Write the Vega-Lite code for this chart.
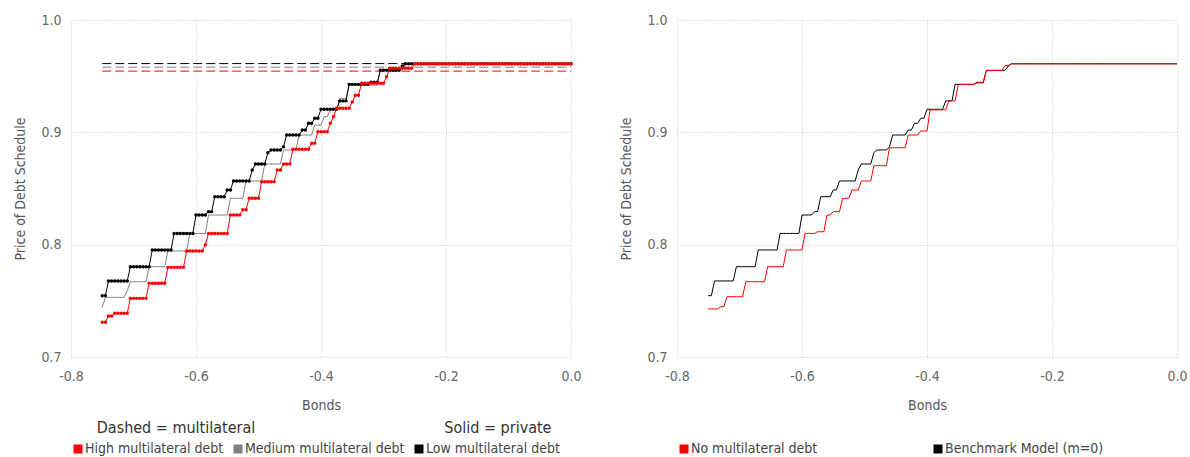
{
"$schema":"https://vega.github.io/schema/vega-lite/v6.json",
"padding":{"left":13,"top":13,"right":5,"bottom":2},
"config":{
 "font":"DejaVu Sans Condensed",
 "locale":{"number":{"decimal":".","thousands":",","grouping":[3],"currency":["$",""],"minus":"-"}},
 "view":{"stroke":null},
 "axis":{"grid":true,"gridColor":"#c8c8da","gridDash":[1,2],"gridWidth":1,"domain":false,"ticks":false,"labelFontSize":14,"labelColor":"#666666","titleFontSize":14,"titleColor":"#555555","titleFontWeight":"normal","labelPadding":10,"labelFlush":false},
 "legend":{"orient":"bottom","direction":"horizontal","title":null,"symbolType":"square","symbolSize":16,"symbolStrokeWidth":5,"labelFontSize":14,"labelColor":"#444444","labelOffset":0,"columnPadding":2,"symbolDash":[],"symbolOpacity":1,"offset":30}
},
"resolve":{"scale":{"color":"independent"},"legend":{"color":"independent"}},
"bounds":"flush",
"spacing":106,
"datasets":{
"curves":[
{"b":-0.75,"hi":0.7309,"md":0.7443,"lo":0.7546,"nm":0.7428,"bm":0.7546},
{"b":-0.745,"hi":0.7309,"md":0.7531,"lo":0.7546,"nm":0.7428,"bm":0.7546},
{"b":-0.74,"hi":0.7365,"md":0.7531,"lo":0.7677,"nm":0.7428,"bm":0.7677},
{"b":-0.735,"hi":0.7365,"md":0.7531,"lo":0.7677,"nm":0.7428,"bm":0.7677},
{"b":-0.73,"hi":0.739,"md":0.7531,"lo":0.7677,"nm":0.7448,"bm":0.7677},
{"b":-0.725,"hi":0.739,"md":0.7531,"lo":0.7677,"nm":0.7448,"bm":0.7677},
{"b":-0.72,"hi":0.739,"md":0.7531,"lo":0.7677,"nm":0.7537,"bm":0.7677},
{"b":-0.715,"hi":0.739,"md":0.7531,"lo":0.7677,"nm":0.7537,"bm":0.7677},
{"b":-0.71,"hi":0.739,"md":0.759,"lo":0.7677,"nm":0.7537,"bm":0.7677},
{"b":-0.705,"hi":0.7522,"md":0.767,"lo":0.7804,"nm":0.7537,"bm":0.7804},
{"b":-0.7,"hi":0.7522,"md":0.767,"lo":0.7804,"nm":0.7537,"bm":0.7804},
{"b":-0.695,"hi":0.7522,"md":0.767,"lo":0.7804,"nm":0.7537,"bm":0.7804},
{"b":-0.69,"hi":0.7522,"md":0.767,"lo":0.7804,"nm":0.767,"bm":0.7804},
{"b":-0.685,"hi":0.7522,"md":0.767,"lo":0.7804,"nm":0.767,"bm":0.7804},
{"b":-0.68,"hi":0.7522,"md":0.767,"lo":0.7804,"nm":0.767,"bm":0.7804},
{"b":-0.675,"hi":0.7656,"md":0.7804,"lo":0.7804,"nm":0.767,"bm":0.7804},
{"b":-0.67,"hi":0.7656,"md":0.7804,"lo":0.7953,"nm":0.767,"bm":0.7953},
{"b":-0.665,"hi":0.7656,"md":0.7804,"lo":0.7953,"nm":0.767,"bm":0.7953},
{"b":-0.66,"hi":0.7656,"md":0.7804,"lo":0.7953,"nm":0.767,"bm":0.7953},
{"b":-0.655,"hi":0.7656,"md":0.7804,"lo":0.7953,"nm":0.7804,"bm":0.7953},
{"b":-0.65,"hi":0.7656,"md":0.7804,"lo":0.7953,"nm":0.7804,"bm":0.7953},
{"b":-0.645,"hi":0.7798,"md":0.7944,"lo":0.7953,"nm":0.7804,"bm":0.7953},
{"b":-0.64,"hi":0.7798,"md":0.7944,"lo":0.7953,"nm":0.7804,"bm":0.7953},
{"b":-0.635,"hi":0.7798,"md":0.7944,"lo":0.81,"nm":0.7804,"bm":0.81},
{"b":-0.63,"hi":0.7798,"md":0.7944,"lo":0.81,"nm":0.7804,"bm":0.81},
{"b":-0.625,"hi":0.7798,"md":0.7944,"lo":0.81,"nm":0.7953,"bm":0.81},
{"b":-0.62,"hi":0.7798,"md":0.7944,"lo":0.81,"nm":0.7953,"bm":0.81},
{"b":-0.615,"hi":0.7944,"md":0.7944,"lo":0.81,"nm":0.7953,"bm":0.81},
{"b":-0.61,"hi":0.7944,"md":0.81,"lo":0.81,"nm":0.7953,"bm":0.81},
{"b":-0.605,"hi":0.7944,"md":0.81,"lo":0.81,"nm":0.7953,"bm":0.81},
{"b":-0.6,"hi":0.7944,"md":0.81,"lo":0.8264,"nm":0.7953,"bm":0.8264},
{"b":-0.595,"hi":0.7944,"md":0.81,"lo":0.8264,"nm":0.81,"bm":0.8264},
{"b":-0.59,"hi":0.7944,"md":0.81,"lo":0.8264,"nm":0.81,"bm":0.8264},
{"b":-0.585,"hi":0.8,"md":0.81,"lo":0.8264,"nm":0.81,"bm":0.8264},
{"b":-0.58,"hi":0.81,"md":0.8264,"lo":0.8294,"nm":0.81,"bm":0.8294},
{"b":-0.575,"hi":0.81,"md":0.8264,"lo":0.8294,"nm":0.8115,"bm":0.8294},
{"b":-0.57,"hi":0.81,"md":0.8264,"lo":0.8427,"nm":0.8115,"bm":0.8427},
{"b":-0.565,"hi":0.81,"md":0.8264,"lo":0.8427,"nm":0.8115,"bm":0.8427},
{"b":-0.56,"hi":0.81,"md":0.8264,"lo":0.8427,"nm":0.8264,"bm":0.8427},
{"b":-0.555,"hi":0.81,"md":0.8264,"lo":0.8427,"nm":0.8264,"bm":0.8427},
{"b":-0.55,"hi":0.81,"md":0.8264,"lo":0.8487,"nm":0.8294,"bm":0.8487},
{"b":-0.545,"hi":0.8264,"md":0.8413,"lo":0.8487,"nm":0.8294,"bm":0.8487},
{"b":-0.54,"hi":0.8264,"md":0.8413,"lo":0.8567,"nm":0.8294,"bm":0.8567},
{"b":-0.535,"hi":0.8264,"md":0.8413,"lo":0.8567,"nm":0.8413,"bm":0.8567},
{"b":-0.53,"hi":0.8264,"md":0.8413,"lo":0.8567,"nm":0.8413,"bm":0.8567},
{"b":-0.525,"hi":0.831,"md":0.8413,"lo":0.8567,"nm":0.8413,"bm":0.8567},
{"b":-0.52,"hi":0.831,"md":0.8567,"lo":0.8567,"nm":0.8487,"bm":0.8567},
{"b":-0.515,"hi":0.8413,"md":0.8567,"lo":0.8567,"nm":0.8487,"bm":0.8567},
{"b":-0.51,"hi":0.8413,"md":0.8567,"lo":0.8665,"nm":0.8487,"bm":0.8665},
{"b":-0.505,"hi":0.8413,"md":0.8567,"lo":0.8718,"nm":0.8567,"bm":0.8718},
{"b":-0.5,"hi":0.8413,"md":0.8567,"lo":0.8718,"nm":0.8567,"bm":0.8718},
{"b":-0.495,"hi":0.856,"md":0.8567,"lo":0.8718,"nm":0.8567,"bm":0.8718},
{"b":-0.49,"hi":0.856,"md":0.8718,"lo":0.8718,"nm":0.8567,"bm":0.8718},
{"b":-0.485,"hi":0.856,"md":0.8718,"lo":0.8819,"nm":0.8703,"bm":0.8819},
{"b":-0.48,"hi":0.856,"md":0.8718,"lo":0.8843,"nm":0.8703,"bm":0.8843},
{"b":-0.475,"hi":0.856,"md":0.8718,"lo":0.8843,"nm":0.8703,"bm":0.8843},
{"b":-0.47,"hi":0.8665,"md":0.8718,"lo":0.8843,"nm":0.8703,"bm":0.8843},
{"b":-0.465,"hi":0.8665,"md":0.8718,"lo":0.8843,"nm":0.8703,"bm":0.8843},
{"b":-0.46,"hi":0.8718,"md":0.8843,"lo":0.8872,"nm":0.8863,"bm":0.8872},
{"b":-0.455,"hi":0.8718,"md":0.8843,"lo":0.8976,"nm":0.8863,"bm":0.8976},
{"b":-0.45,"hi":0.8718,"md":0.8843,"lo":0.8976,"nm":0.8863,"bm":0.8976},
{"b":-0.445,"hi":0.8849,"md":0.8843,"lo":0.8976,"nm":0.8863,"bm":0.8976},
{"b":-0.44,"hi":0.8849,"md":0.8843,"lo":0.8976,"nm":0.8863,"bm":0.8976},
{"b":-0.435,"hi":0.8849,"md":0.8976,"lo":0.8976,"nm":0.8863,"bm":0.8976},
{"b":-0.43,"hi":0.8849,"md":0.8976,"lo":0.902,"nm":0.8976,"bm":0.902},
{"b":-0.425,"hi":0.8849,"md":0.8976,"lo":0.902,"nm":0.8976,"bm":0.902},
{"b":-0.42,"hi":0.8849,"md":0.8976,"lo":0.908,"nm":0.8976,"bm":0.908},
{"b":-0.415,"hi":0.8902,"md":0.8976,"lo":0.908,"nm":0.8976,"bm":0.908},
{"b":-0.41,"hi":0.8902,"md":0.9065,"lo":0.9125,"nm":0.9012,"bm":0.9125},
{"b":-0.405,"hi":0.9006,"md":0.9065,"lo":0.9125,"nm":0.9012,"bm":0.9125},
{"b":-0.4,"hi":0.9006,"md":0.9065,"lo":0.9205,"nm":0.9012,"bm":0.9205},
{"b":-0.395,"hi":0.9006,"md":0.914,"lo":0.9205,"nm":0.92,"bm":0.9205},
{"b":-0.39,"hi":0.9006,"md":0.914,"lo":0.9205,"nm":0.92,"bm":0.9205},
{"b":-0.385,"hi":0.908,"md":0.92,"lo":0.9205,"nm":0.92,"bm":0.9205},
{"b":-0.38,"hi":0.914,"md":0.92,"lo":0.9205,"nm":0.92,"bm":0.9205},
{"b":-0.375,"hi":0.9214,"md":0.92,"lo":0.9205,"nm":0.92,"bm":0.9205},
{"b":-0.37,"hi":0.9214,"md":0.93,"lo":0.928,"nm":0.92,"bm":0.928},
{"b":-0.365,"hi":0.9214,"md":0.93,"lo":0.928,"nm":0.928,"bm":0.928},
{"b":-0.36,"hi":0.9214,"md":0.93,"lo":0.928,"nm":0.928,"bm":0.928},
{"b":-0.355,"hi":0.9214,"md":0.942,"lo":0.9427,"nm":0.928,"bm":0.9427},
{"b":-0.35,"hi":0.927,"md":0.942,"lo":0.9427,"nm":0.9427,"bm":0.9427},
{"b":-0.345,"hi":0.933,"md":0.942,"lo":0.9427,"nm":0.9427,"bm":0.9427},
{"b":-0.34,"hi":0.933,"md":0.942,"lo":0.9427,"nm":0.9427,"bm":0.9427},
{"b":-0.335,"hi":0.9436,"md":0.942,"lo":0.9427,"nm":0.9427,"bm":0.9427},
{"b":-0.33,"hi":0.9436,"md":0.942,"lo":0.9427,"nm":0.9427,"bm":0.9427},
{"b":-0.325,"hi":0.9436,"md":0.942,"lo":0.9427,"nm":0.9427,"bm":0.9427},
{"b":-0.32,"hi":0.9436,"md":0.942,"lo":0.9445,"nm":0.944,"bm":0.9445},
{"b":-0.315,"hi":0.9436,"md":0.942,"lo":0.9445,"nm":0.944,"bm":0.9445},
{"b":-0.31,"hi":0.9436,"md":0.942,"lo":0.9445,"nm":0.944,"bm":0.9445},
{"b":-0.305,"hi":0.9436,"md":0.9555,"lo":0.9552,"nm":0.955,"bm":0.9552},
{"b":-0.3,"hi":0.9436,"md":0.9555,"lo":0.9552,"nm":0.955,"bm":0.9552},
{"b":-0.295,"hi":0.9495,"md":0.9555,"lo":0.9552,"nm":0.955,"bm":0.9552},
{"b":-0.29,"hi":0.957,"md":0.9555,"lo":0.9552,"nm":0.955,"bm":0.9552},
{"b":-0.285,"hi":0.957,"md":0.9555,"lo":0.9552,"nm":0.955,"bm":0.9552},
{"b":-0.28,"hi":0.957,"md":0.9555,"lo":0.9552,"nm":0.955,"bm":0.9552},
{"b":-0.275,"hi":0.957,"md":0.9555,"lo":0.9552,"nm":0.9595,"bm":0.9552},
{"b":-0.27,"hi":0.957,"md":0.9555,"lo":0.959,"nm":0.9595,"bm":0.959},
{"b":-0.265,"hi":0.957,"md":0.961,"lo":0.961,"nm":0.961,"bm":0.961},
{"b":-0.26,"hi":0.957,"md":0.961,"lo":0.961,"nm":0.961,"bm":0.961},
{"b":-0.255,"hi":0.957,"md":0.961,"lo":0.961,"nm":0.961,"bm":0.961},
{"b":-0.25,"hi":0.961,"md":0.961,"lo":0.961,"nm":0.961,"bm":0.961},
{"b":-0.245,"hi":0.961,"md":0.961,"lo":0.961,"nm":0.961,"bm":0.961},
{"b":-0.24,"hi":0.961,"md":0.961,"lo":0.961,"nm":0.961,"bm":0.961},
{"b":-0.235,"hi":0.961,"md":0.961,"lo":0.961,"nm":0.961,"bm":0.961},
{"b":-0.23,"hi":0.961,"md":0.961,"lo":0.961,"nm":0.961,"bm":0.961},
{"b":-0.225,"hi":0.961,"md":0.961,"lo":0.961,"nm":0.961,"bm":0.961},
{"b":-0.22,"hi":0.961,"md":0.961,"lo":0.961,"nm":0.961,"bm":0.961},
{"b":-0.215,"hi":0.961,"md":0.961,"lo":0.961,"nm":0.961,"bm":0.961},
{"b":-0.21,"hi":0.961,"md":0.961,"lo":0.961,"nm":0.961,"bm":0.961},
{"b":-0.205,"hi":0.961,"md":0.961,"lo":0.961,"nm":0.961,"bm":0.961},
{"b":-0.2,"hi":0.961,"md":0.961,"lo":0.961,"nm":0.961,"bm":0.961},
{"b":-0.195,"hi":0.961,"md":0.961,"lo":0.961,"nm":0.961,"bm":0.961},
{"b":-0.19,"hi":0.961,"md":0.961,"lo":0.961,"nm":0.961,"bm":0.961},
{"b":-0.185,"hi":0.961,"md":0.961,"lo":0.961,"nm":0.961,"bm":0.961},
{"b":-0.18,"hi":0.961,"md":0.961,"lo":0.961,"nm":0.961,"bm":0.961},
{"b":-0.175,"hi":0.961,"md":0.961,"lo":0.961,"nm":0.961,"bm":0.961},
{"b":-0.17,"hi":0.961,"md":0.961,"lo":0.961,"nm":0.961,"bm":0.961},
{"b":-0.165,"hi":0.961,"md":0.961,"lo":0.961,"nm":0.961,"bm":0.961},
{"b":-0.16,"hi":0.961,"md":0.961,"lo":0.961,"nm":0.961,"bm":0.961},
{"b":-0.155,"hi":0.961,"md":0.961,"lo":0.961,"nm":0.961,"bm":0.961},
{"b":-0.15,"hi":0.961,"md":0.961,"lo":0.961,"nm":0.961,"bm":0.961},
{"b":-0.145,"hi":0.961,"md":0.961,"lo":0.961,"nm":0.961,"bm":0.961},
{"b":-0.14,"hi":0.961,"md":0.961,"lo":0.961,"nm":0.961,"bm":0.961},
{"b":-0.135,"hi":0.961,"md":0.961,"lo":0.961,"nm":0.961,"bm":0.961},
{"b":-0.13,"hi":0.961,"md":0.961,"lo":0.961,"nm":0.961,"bm":0.961},
{"b":-0.125,"hi":0.961,"md":0.961,"lo":0.961,"nm":0.961,"bm":0.961},
{"b":-0.12,"hi":0.961,"md":0.961,"lo":0.961,"nm":0.961,"bm":0.961},
{"b":-0.115,"hi":0.961,"md":0.961,"lo":0.961,"nm":0.961,"bm":0.961},
{"b":-0.11,"hi":0.961,"md":0.961,"lo":0.961,"nm":0.961,"bm":0.961},
{"b":-0.105,"hi":0.961,"md":0.961,"lo":0.961,"nm":0.961,"bm":0.961},
{"b":-0.1,"hi":0.961,"md":0.961,"lo":0.961,"nm":0.961,"bm":0.961},
{"b":-0.095,"hi":0.961,"md":0.961,"lo":0.961,"nm":0.961,"bm":0.961},
{"b":-0.09,"hi":0.961,"md":0.961,"lo":0.961,"nm":0.961,"bm":0.961},
{"b":-0.085,"hi":0.961,"md":0.961,"lo":0.961,"nm":0.961,"bm":0.961},
{"b":-0.08,"hi":0.961,"md":0.961,"lo":0.961,"nm":0.961,"bm":0.961},
{"b":-0.075,"hi":0.961,"md":0.961,"lo":0.961,"nm":0.961,"bm":0.961},
{"b":-0.07,"hi":0.961,"md":0.961,"lo":0.961,"nm":0.961,"bm":0.961},
{"b":-0.065,"hi":0.961,"md":0.961,"lo":0.961,"nm":0.961,"bm":0.961},
{"b":-0.06,"hi":0.961,"md":0.961,"lo":0.961,"nm":0.961,"bm":0.961},
{"b":-0.055,"hi":0.961,"md":0.961,"lo":0.961,"nm":0.961,"bm":0.961},
{"b":-0.05,"hi":0.961,"md":0.961,"lo":0.961,"nm":0.961,"bm":0.961},
{"b":-0.045,"hi":0.961,"md":0.961,"lo":0.961,"nm":0.961,"bm":0.961},
{"b":-0.04,"hi":0.961,"md":0.961,"lo":0.961,"nm":0.961,"bm":0.961},
{"b":-0.035,"hi":0.961,"md":0.961,"lo":0.961,"nm":0.961,"bm":0.961},
{"b":-0.03,"hi":0.961,"md":0.961,"lo":0.961,"nm":0.961,"bm":0.961},
{"b":-0.025,"hi":0.961,"md":0.961,"lo":0.961,"nm":0.961,"bm":0.961},
{"b":-0.02,"hi":0.961,"md":0.961,"lo":0.961,"nm":0.961,"bm":0.961},
{"b":-0.015,"hi":0.961,"md":0.961,"lo":0.961,"nm":0.961,"bm":0.961},
{"b":-0.01,"hi":0.961,"md":0.961,"lo":0.961,"nm":0.961,"bm":0.961},
{"b":-0.005,"hi":0.961,"md":0.961,"lo":0.961,"nm":0.961,"bm":0.961},
{"b":0,"hi":0.961,"md":0.961,"lo":0.961,"nm":0.961,"bm":0.961}
],
"dash":[
{"b":-0.75,"v":0.9612,"s":"Low multilateral debt"},
{"b":0,"v":0.9612,"s":"Low multilateral debt"},
{"b":-0.75,"v":0.958,"s":"Medium multilateral debt"},
{"b":0,"v":0.958,"s":"Medium multilateral debt"},
{"b":-0.75,"v":0.9545,"s":"High multilateral debt"},
{"b":0,"v":0.9545,"s":"High multilateral debt"}
],
"notes":[
{"t":"Dashed = multilateral","side":"left"},
{"t":"Solid = private","side":"right"}
]
},
"hconcat":[
{
 "width":500,"height":337,
 "encoding":{
  "x":{"type":"quantitative","scale":{"domain":[-0.8,0],"nice":false},"axis":{"title":"Bonds","values":[-0.8,-0.6,-0.4,-0.2,0],"format":".1f","labelPadding":12,"titlePadding":15}},
  "y":{"type":"quantitative","scale":{"domain":[0.7,1.0],"nice":false,"zero":false},"axis":{"title":"Price of Debt Schedule","values":[0.7,0.8,0.9,1.0],"format":".1f","titlePadding":13}}
 },
 "layer":[
  {"data":{"name":"dash"},"mark":{"type":"line","strokeWidth":1,"strokeDash":[9,4]},
   "encoding":{"x":{"field":"b","type":"quantitative"},"y":{"field":"v","type":"quantitative"},
    "color":{"field":"s","type":"nominal","scale":{"domain":["High multilateral debt","Medium multilateral debt","Low multilateral debt"],"range":["#ff0000","#808080","#000000"]}},
    "detail":{"field":"s"}}},
  {"data":{"name":"curves"},"mark":{"type":"line","strokeWidth":1},
   "encoding":{"x":{"field":"b","type":"quantitative"},"y":{"field":"md","type":"quantitative"},"color":{"datum":"Medium multilateral debt"}}},
  {"data":{"name":"curves"},"mark":{"type":"line","strokeWidth":1},
   "encoding":{"x":{"field":"b","type":"quantitative"},"y":{"field":"lo","type":"quantitative"},"color":{"datum":"Low multilateral debt"}}},
  {"data":{"name":"curves"},"mark":{"type":"circle","size":12,"opacity":1},
   "encoding":{"x":{"field":"b","type":"quantitative"},"y":{"field":"lo","type":"quantitative"},"color":{"datum":"Low multilateral debt"}}},
  {"data":{"name":"curves"},"mark":{"type":"line","strokeWidth":1},
   "encoding":{"x":{"field":"b","type":"quantitative"},"y":{"field":"hi","type":"quantitative"},"color":{"datum":"High multilateral debt"}}},
  {"data":{"name":"curves"},"mark":{"type":"circle","size":12,"opacity":1},
   "encoding":{"x":{"field":"b","type":"quantitative"},"y":{"field":"hi","type":"quantitative"},"color":{"datum":"High multilateral debt"}}},
  {"data":{"name":"notes"},"transform":[{"filter":{"field":"side","equal":"left"}}],
   "mark":{"type":"text","fontSize":16,"color":"#333333","align":"center","baseline":"middle"},
   "encoding":{"text":{"field":"t"},"x":{"datum":-0.632},"y":{"datum":0.637}}},
  {"data":{"name":"notes"},"transform":[{"filter":{"field":"side","equal":"right"}}],
   "mark":{"type":"text","fontSize":16,"color":"#333333","align":"center","baseline":"middle"},
   "encoding":{"text":{"field":"t"},"x":{"datum":-0.117},"y":{"datum":0.637}}}
 ]
},
{
 "width":500,"height":337,
 "data":{"name":"curves"},
 "encoding":{
  "x":{"field":"b","type":"quantitative","scale":{"domain":[-0.8,0],"nice":false},"axis":{"title":"Bonds","values":[-0.8,-0.6,-0.4,-0.2,0],"format":".1f","labelPadding":12,"titlePadding":15}}
 },
 "layer":[
  {"mark":{"type":"line","strokeWidth":1},
   "encoding":{"y":{"field":"bm","type":"quantitative","scale":{"domain":[0.7,1.0],"nice":false,"zero":false},"axis":{"title":"Price of Debt Schedule","values":[0.7,0.8,0.9,1.0],"format":".1f","titlePadding":13}},
    "color":{"datum":"Benchmark Model (m=0)","scale":{"domain":["No multilateral debt","Benchmark Model (m=0)"],"range":["#ff0000","#000000"]},"legend":{"columnPadding":108}}}},
  {"mark":{"type":"line","strokeWidth":1},
   "encoding":{"y":{"field":"nm","type":"quantitative"},"color":{"datum":"No multilateral debt"}}}
 ]
}
]
}
